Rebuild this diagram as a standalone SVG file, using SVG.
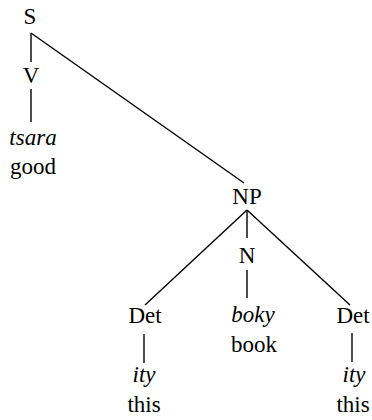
<svg xmlns="http://www.w3.org/2000/svg" width="372" height="420" viewBox="0 0 372 420">
<style>
text{font-family:'Liberation Serif';font-size:23px;fill:#000;text-anchor:middle}
.it{font-style:italic}
#edges line{stroke:#000;stroke-width:1.4}
</style>
<rect width="372" height="420" fill="#fff"/>
<g id="edges">
<line x1="31" y1="33" x2="31" y2="62"/>
<line x1="31" y1="33" x2="244" y2="183"/>
<line x1="31" y1="89" x2="31" y2="122"/>
<line x1="247" y1="210" x2="145" y2="305"/>
<line x1="247" y1="210" x2="247" y2="238"/>
<line x1="247" y1="210" x2="350" y2="305"/>
<line x1="247" y1="270" x2="247" y2="298"/>
<line x1="144" y1="334" x2="144" y2="363"/>
<line x1="352" y1="333" x2="352" y2="362"/>
</g>
<g id="S"><text x="30" y="24">S</text></g>
<g id="V"><text x="31" y="83">V</text></g>
<g id="tsara"><text class="it" x="33" y="145">tsara</text><text x="33" y="174">good</text></g>
<g id="NP"><text x="247" y="204">NP</text></g>
<g id="N"><text x="247" y="263">N</text></g>
<g id="boky"><text class="it" x="253" y="322">boky</text><text x="254" y="352">book</text></g>
<g id="Det1"><text x="145" y="323">Det</text></g>
<g id="ity1"><text class="it" x="144" y="382">ity</text><text x="144" y="412">this</text></g>
<g id="Det2"><text x="353" y="323">Det</text></g>
<g id="ity2"><text class="it" x="354" y="382">ity</text><text x="353" y="412">this</text></g>
</svg>
